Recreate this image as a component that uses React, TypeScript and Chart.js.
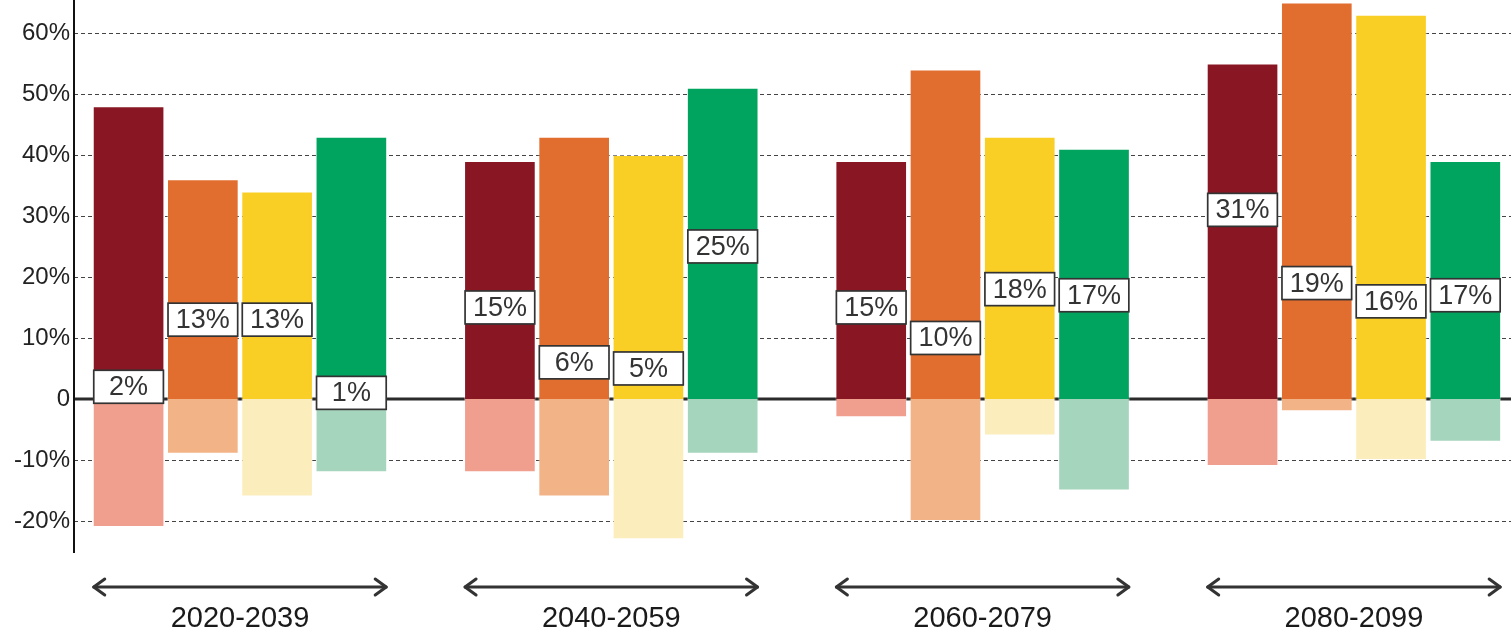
import React, { useEffect, useRef } from "react";
import { Chart, registerables } from "chart.js";

Chart.register(...registerables);

const periods = ["2020-2039", "2040-2059", "2060-2079", "2080-2099"];
const seriesNames = ["A", "B", "C", "D"];

const darkRedHigh = [48, 39, 39, 55];
const darkRedLow = [-21, -12, -3, -11];
const darkRedMid = [2, 15, 15, 31];

const orangeHigh = [36, 43, 54, 65];
const orangeLow = [-9, -16, -20, -2];
const orangeMid = [13, 6, 10, 19];

const yellowHigh = [34, 40, 43, 63];
const yellowLow = [-16, -23, -6, -10];
const yellowMid = [13, 5, 18, 16];

const greenHigh = [43, 51, 41, 39];
const greenLow = [-12, -9, -15, -7];
const greenMid = [1, 25, 17, 17];

const yTicks = [-20, -10, 0, 10, 20, 30, 40, 50, 60];

const strongColors = ["#891723", "#E16D2F", "#F9CF26", "#00A45F"];
const lightColors = ["#F09E8E", "#F2B387", "#FCEDBD", "#A6D5BD"];

const highs = [darkRedHigh, orangeHigh, yellowHigh, greenHigh];
const lows = [darkRedLow, orangeLow, yellowLow, greenLow];
const mids = [darkRedMid, orangeMid, yellowMid, greenMid];

const FONT = "'Liberation Sans', Arial, sans-serif";

const overlayPlugin = {
  id: "overlay",
  beforeDatasetsDraw(chart: any) {
    const { ctx, chartArea } = chart;
    const y = chart.scales.y;
    ctx.save();
    ctx.lineWidth = 1;
    ctx.strokeStyle = "#444";
    ctx.setLineDash([4, 3]);
    for (const t of yTicks) {
      if (t === 0) continue;
      const py = Math.round(y.getPixelForValue(t)) + 0.5;
      ctx.beginPath();
      ctx.moveTo(chartArea.left, py);
      ctx.lineTo(chartArea.right, py);
      ctx.stroke();
    }
    ctx.setLineDash([]);
    ctx.lineWidth = 3;
    ctx.strokeStyle = "#2b2b2b";
    const p0 = y.getPixelForValue(0);
    ctx.beginPath();
    ctx.moveTo(chartArea.left, p0);
    ctx.lineTo(chartArea.right, p0);
    ctx.stroke();
    ctx.restore();
  },
  afterDatasetsDraw(chart: any) {
    const { ctx, chartArea } = chart;
    const y = chart.scales.y;
    ctx.save();
    ctx.strokeStyle = "#111";
    ctx.lineWidth = 2;
    ctx.beginPath();
    ctx.moveTo(chartArea.left, chartArea.top);
    ctx.lineTo(chartArea.left, chartArea.bottom);
    ctx.stroke();

    ctx.font = `27px ${FONT}`;
    ctx.textAlign = "center";
    ctx.textBaseline = "middle";
    for (let s = 0; s < 4; s++) {
      const meta = chart.getDatasetMeta(s * 2);
      for (let g = 0; g < periods.length; g++) {
        const el: any = meta.data[g];
        if (!el) continue;
        const w = el.width;
        const cx = el.x;
        const cy = y.getPixelForValue(mids[s][g]);
        const h = 33;
        const bx = cx - w / 2 + 1;
        const by = cy - h / 2;
        ctx.fillStyle = "#ffffff";
        ctx.fillRect(bx, by, w - 2, h);
        ctx.lineWidth = 1.7;
        ctx.strokeStyle = "#333";
        ctx.strokeRect(bx, by, w - 2, h);
        ctx.fillStyle = "#333";
        ctx.fillText(mids[s][g] + "%", cx, cy + 1);
      }
    }

    const first = chart.getDatasetMeta(0);
    const last = chart.getDatasetMeta(6);
    const ay = chartArea.bottom + 34;
    for (let g = 0; g < periods.length; g++) {
      const a: any = first.data[g];
      const b: any = last.data[g];
      const x1 = a.x - a.width / 2;
      const x2 = b.x + b.width / 2;
      ctx.strokeStyle = "#333";
      ctx.lineWidth = 3;
      ctx.lineCap = "round";
      ctx.lineJoin = "round";
      ctx.beginPath();
      ctx.moveTo(x1 + 1, ay);
      ctx.lineTo(x2 - 1, ay);
      ctx.stroke();
      ctx.beginPath();
      ctx.moveTo(x1 + 12, ay - 8);
      ctx.lineTo(x1 + 1, ay);
      ctx.lineTo(x1 + 12, ay + 8);
      ctx.stroke();
      ctx.beginPath();
      ctx.moveTo(x2 - 12, ay - 8);
      ctx.lineTo(x2 - 1, ay);
      ctx.lineTo(x2 - 12, ay + 8);
      ctx.stroke();
      ctx.fillStyle = "#1a1a1a";
      ctx.font = `29px ${FONT}`;
      ctx.textAlign = "center";
      ctx.textBaseline = "middle";
      ctx.fillText(periods[g], (x1 + x2) / 2, ay + 32);
    }
    ctx.restore();
  },
};

export default function App() {
  const ref = useRef<HTMLCanvasElement>(null);
  useEffect(() => {
    document.body.style.margin = "0";
    const canvas = ref.current;
    if (!canvas) return;
    const datasets: any[] = [];
    for (let s = 0; s < 4; s++) {
      datasets.push({
        label: seriesNames[s] + " high",
        data: highs[s].map((v, i) => ({ x: i, y: v })),
        backgroundColor: strongColors[s],
        borderColor: "rgba(255,255,255,0.35)",
        borderWidth: 1,
        stack: "s" + s,
        barPercentage: 0.965,
        categoryPercentage: 0.8,
      });
      datasets.push({
        label: seriesNames[s] + " low",
        data: lows[s].map((v, i) => ({ x: i, y: v })),
        backgroundColor: lightColors[s],
        borderColor: "rgba(255,255,255,0.35)",
        borderWidth: 1,
        stack: "s" + s,
        barPercentage: 0.965,
        categoryPercentage: 0.8,
      });
    }
    const chart = new Chart(canvas, {
      type: "bar",
      data: { datasets },
      options: {
        animation: false,
        responsive: false,
        maintainAspectRatio: false,
        layout: { padding: { top: 0, right: 0, bottom: 81, left: 0 } },
        plugins: {
          legend: { display: false },
          tooltip: { enabled: false },
        },
        scales: {
          x: {
            type: "linear",
            display: false,
            min: -0.447,
            max: 3.423,
            offset: false,
            ticks: { stepSize: 1, includeBounds: false },
            afterBuildTicks: (scale: any) => {
              scale.ticks = periods.map((_, i) => ({ value: i }));
            },
          },
          y: {
            min: -25.25,
            max: 65.4,
            grid: { display: false, drawTicks: false },
            border: { display: false },
            ticks: {
              stepSize: 10,
              includeBounds: false,
              padding: 4,
              color: "#222",
              font: { family: FONT, size: 24 },
              callback: (v: any) => (Number(v) === 0 ? "0" : v + "%"),
            },
            afterFit: (scale: any) => {
              scale.width = 74;
              scale.paddingTop = 0;
              scale.paddingBottom = 0;
            },
          },
        },
      },
      plugins: [overlayPlugin],
    });
    return () => chart.destroy();
  }, []);
  return (
    <div style={{ width: 1511, height: 634, overflow: "hidden" }}>
      <canvas ref={ref} width={1511} height={634} style={{ display: "block" }} />
    </div>
  );
}
